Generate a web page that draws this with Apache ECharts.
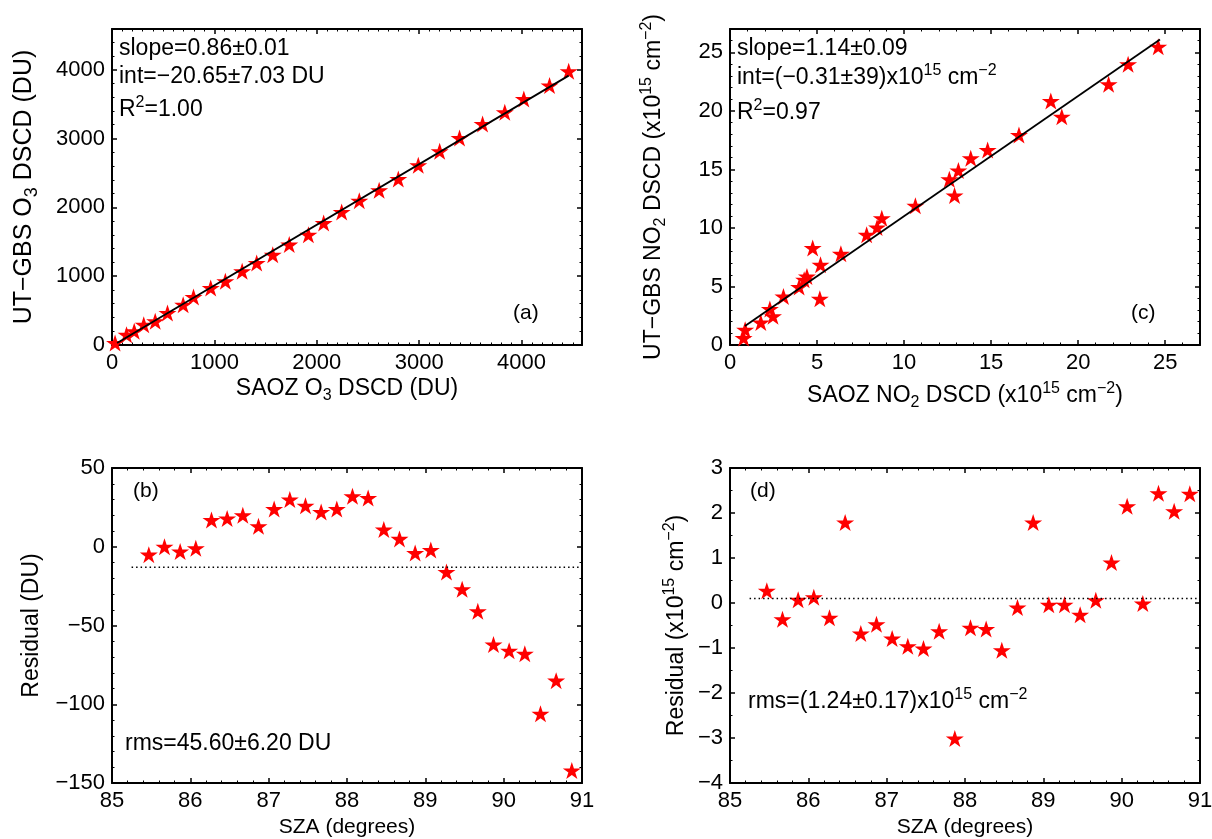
<!DOCTYPE html>
<html><head><meta charset="utf-8">
<script src="https://cdn.jsdelivr.net/npm/echarts@6/dist/echarts.min.js"></script>
<style>html,body{margin:0;padding:0;background:#fff}#c{width:1212px;height:839px}</style>
</head><body><div id="c"></div>
<script>
// ---- data ----
const o3Saoz = [30,142,217,310,422,542,695,796,964,1107,1271,1413,1570,1731,1918,2067,2243,2415,2609,2796,2991,3200,3394,3619,3836,4022,4273,4460];
const o3Gbs  = [30,150,198,295,344,465,586,697,828,925,1070,1191,1312,1458,1603,1772,1932,2097,2247,2412,2610,2814,3007,3211,3380,3574,3768,3976];
const o3FitX = [50, 4460];
const o3FitY = [30, 3913];

const no2Saoz = [0.78,0.87,1.77,2.29,2.47,3.07,3.97,4.26,4.42,4.75,5.16,5.2,6.37,7.85,8.45,8.72,10.65,12.6,13.12,12.9,13.83,14.8,16.6,18.43,19.06,21.75,22.87,24.6];
const no2Gbs  = [0.6,1.31,1.93,3.07,2.45,4.15,4.95,5.57,5.86,8.28,3.95,6.85,7.79,9.41,10.04,10.84,11.89,14.16,14.9,12.77,15.96,16.67,17.95,20.85,19.51,22.27,23.98,25.48];
const no2FitX = [0.86, 24.7];
const no2FitY = [1.62, 26.1];

const sza = [85.47,85.67,85.87,86.07,86.27,86.47,86.67,86.87,87.07,87.27,87.47,87.67,87.87,88.07,88.27,88.47,88.67,88.87,89.07,89.27,89.47,89.67,89.87,90.07,90.27,90.47,90.67,90.87];
const o3Resid = [-5,0,-3,-1,17,18,20,13,24,30,26,22,24,32,31,11,5,-4,-2,-16,-27,-41,-62,-66,-68,-106,-85,-142];
const no2Resid = [0.27,-0.36,0.07,0.13,-0.33,1.79,-0.68,-0.47,-0.79,-0.96,-1.01,-0.63,-3.01,-0.55,-0.58,-1.05,-0.10,1.79,-0.04,-0.04,-0.26,0.06,0.90,2.15,-0.01,2.44,2.04,2.43];
const meanX = [85.25, 91];
const o3MeanResid = -13;
const no2MeanResid = 0.1;

// ---- style ----
const FONT = '"Liberation Sans", Arial, Helvetica, sans-serif';
const FS_TICK = 22, FS_NAME = 23, FS_NOTE = 23, FS_PANEL = 21, FS_SZA = 21;
const STAR = 'path://M0,-1 L0.2245,-0.309 L0.951,-0.309 L0.363,0.118 L0.588,0.809 L0,0.382 L-0.588,0.809 L-0.363,0.118 L-0.951,-0.309 L-0.2245,-0.309 Z';
function rich(key, fs) {
  const s = Math.round((fs || 23) * 0.7);
  return {
    sub: {fontSize: s, lineHeight: s - 1, verticalAlign: 'bottom', fontFamily: FONT, [key]: '#000'},
    sup: {fontSize: s, lineHeight: s - 1, verticalAlign: 'top', fontFamily: FONT, [key]: '#000'}
  };
}
const minus = v => String(v).replace('-', '\u2212');

const grids = [
  {left: 112, top: 29, width: 470, height: 316},
  {left: 730, top: 29, width: 470, height: 316},
  {left: 112, top: 468, width: 470, height: 315},
  {left: 730, top: 468, width: 470, height: 315}
];

function axis(gi, pos, min, max, interval, minorSplit, opts) {
  opts = opts || {};
  const main = (pos === 'bottom' || pos === 'left');
  const nfs = opts.nameFs || FS_NAME;
  delete opts.nameFs;
  return Object.assign({
    type: 'value', gridIndex: gi, position: pos, min: min, max: max, interval: interval,
    axisLine: {show: true, onZero: false, lineStyle: {color: '#000', width: 2}},
    axisTick: {show: true, inside: true, length: 5, lineStyle: {color: '#000', width: 1.5}},
    minorTick: {show: true, splitNumber: minorSplit, length: 2.5, lineStyle: {color: '#000', width: 1}},
    splitLine: {show: false},
    axisLabel: {show: main, color: '#000', fontSize: FS_TICK, fontFamily: FONT, margin: 7,
      formatter: v => (Math.abs(Math.round(v / interval) * interval - v) < 1e-9 ? minus(v) : '')},
    nameLocation: 'middle', nameMoveOverlap: false,
    nameTextStyle: {color: '#000', fontSize: nfs, fontFamily: FONT, lineHeight: Math.round(nfs * 1.3), rich: rich('color', nfs)}
  }, opts);
}

const xAxes = [
  axis(0, 'bottom', 0, 4590, 1000, 10, {name: 'SAOZ O{sub|3} DSCD (DU)', nameGap: 29}),
  axis(0, 'top', 0, 4590, 1000, 10),
  axis(1, 'bottom', 0, 27, 5, 5, {name: 'SAOZ NO{sub|2} DSCD (x10{sup|15} cm{sup|\u22122})', nameGap: 36}),
  axis(1, 'top', 0, 27, 5, 5),
  axis(2, 'bottom', 85, 91, 1, 5, {name: 'SZA (degrees)', nameGap: 31, nameFs: FS_SZA}),
  axis(2, 'top', 85, 91, 1, 5),
  axis(3, 'bottom', 85, 91, 1, 5, {name: 'SZA (degrees)', nameGap: 31, nameFs: FS_SZA}),
  axis(3, 'top', 85, 91, 1, 5)
];
const yAxes = [
  axis(0, 'left', 0, 4590, 1000, 5, {name: 'UT\u2212GBS O{sub|3} DSCD (DU)', nameGap: 71, nameFs: 25}),
  axis(0, 'right', 0, 4590, 1000, 5),
  axis(1, 'left', 0, 27, 5, 5, {name: 'UT\u2212GBS NO{sub|2} DSCD (x10{sup|15} cm{sup|\u22122})', nameGap: 61}),
  axis(1, 'right', 0, 27, 5, 5),
  axis(2, 'left', -150, 50, 50, 5, {name: 'Residual (DU)', nameGap: 65}),
  axis(2, 'right', -150, 50, 50, 5),
  axis(3, 'left', -4, 3, 1, 2, {name: 'Residual (x10{sup|15} cm{sup|\u22122})', nameGap: 38}),
  axis(3, 'right', -4, 3, 1, 2)
];

function stars(xs, ys, gi) {
  return {type: 'scatter', xAxisIndex: 2 * gi, yAxisIndex: 2 * gi, symbol: STAR, symbolSize: [18, 17],
    itemStyle: {color: '#ff0000', opacity: 1}, data: xs.map((x, i) => [x, ys[i]]), z: 2, clip: false};
}
function line(xs, ys, gi, dotted) {
  return {type: 'line', xAxisIndex: 2 * gi, yAxisIndex: 2 * gi, showSymbol: false, symbol: 'none',
    lineStyle: dotted ? {color: '#000', width: 1.5, type: [1.5, 3]} : {color: '#000', width: 1.8},
    data: xs.map((x, i) => [x, ys[i]]), z: 3, silent: true};
}

function txt(left, top, text, fs) {
  fs = fs || FS_NOTE;
  return {type: 'text', left: left, top: top, z: 100,
    style: {text: text, fontSize: fs, fontFamily: FONT, fill: '#000', lineHeight: Math.round(fs * 1.3), rich: rich('fill', fs)}};
}

const option = {
  animation: false,
  backgroundColor: '#fff',
  grid: grids.map(g => Object.assign({outerBoundsMode: 'none', containLabel: false}, g)),
  xAxis: xAxes,
  yAxis: yAxes,
  series: [
    stars(o3Saoz, o3Gbs, 0),
    line(o3FitX, o3FitY, 0, false),
    stars(no2Saoz, no2Gbs, 1),
    line(no2FitX, no2FitY, 1, false),
    stars(sza, o3Resid, 2),
    line(meanX, [o3MeanResid, o3MeanResid], 2, true),
    stars(sza, no2Resid, 3),
    line(meanX, [no2MeanResid, no2MeanResid], 3, true)
  ],
  graphic: [
    txt(119, 34, 'slope=0.86\u00b10.01'),
    txt(119, 62, 'int=\u221220.65\u00b17.03 DU'),
    txt(119, 95, 'R{sup|2}=1.00'),
    txt(513, 300, '(a)', FS_PANEL),
    txt(737, 34, 'slope=1.14\u00b10.09'),
    txt(737, 63, 'int=(\u22120.31\u00b139)x10{sup|15} cm{sup|\u22122}'),
    txt(737, 98, 'R{sup|2}=0.97'),
    txt(1131, 300, '(c)', FS_PANEL),
    txt(133, 478, '(b)', FS_PANEL),
    txt(125, 729, 'rms=45.60\u00b16.20 DU'),
    txt(750, 478, '(d)', FS_PANEL),
    txt(748, 687, 'rms=(1.24\u00b10.17)x10{sup|15} cm{sup|\u22122}')
  ]
};

const chart = echarts.init(document.getElementById('c'), null, {renderer: 'canvas'});
chart.setOption(option);
</script>
</body></html>
